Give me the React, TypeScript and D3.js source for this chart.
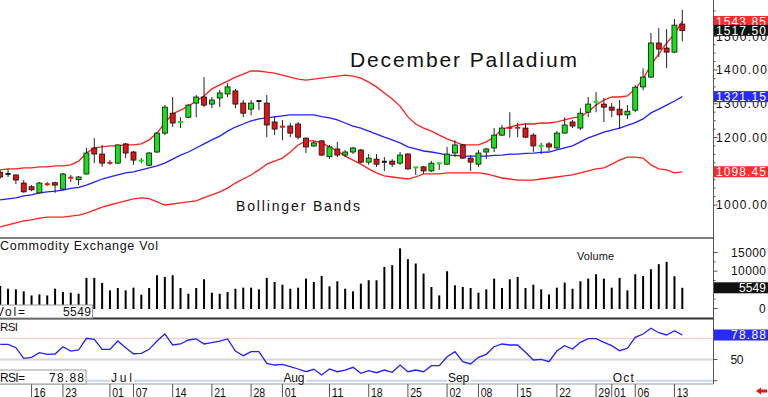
import React, { useEffect, useRef } from 'react';
import * as d3 from 'd3';

const W = 768;
const H = 397;
const FONT = '"Liberation Sans", Arial, Helvetica, sans-serif';

// trading days, Jun 10 - Oct 14
const dates = [
  '06-10', '06-11', '06-12', '06-13', '06-16', '06-17', '06-18', '06-20', '06-23', '06-24',
  '06-25', '06-26', '06-27', '06-30', '07-01', '07-02', '07-03', '07-07', '07-08', '07-09',
  '07-10', '07-11', '07-14', '07-15', '07-16', '07-17', '07-18', '07-21', '07-22', '07-23',
  '07-24', '07-25', '07-28', '07-29', '07-30', '07-31', '08-01', '08-04', '08-05', '08-06',
  '08-07', '08-08', '08-11', '08-12', '08-13', '08-14', '08-15', '08-18', '08-19', '08-20',
  '08-21', '08-22', '08-25', '08-26', '08-27', '08-28', '08-29', '09-02', '09-03', '09-04',
  '09-05', '09-08', '09-09', '09-10', '09-11', '09-12', '09-15', '09-16', '09-17', '09-18',
  '09-19', '09-22', '09-23', '09-24', '09-25', '09-26', '09-29', '09-30', '10-01', '10-02',
  '10-03', '10-06', '10-07', '10-08', '10-09', '10-10', '10-13', '10-14',
];

const opens = [
  1097, 1092, 1089, 1065, 1054, 1036, 1063, 1066, 1047, 1082,
  1075, 1092, 1169, 1151, 1126, 1124, 1181, 1157, 1130, 1118,
  1157, 1213, 1272, 1244, 1260, 1302, 1320, 1299, 1317, 1329,
  1338, 1302, 1284, 1308, 1302, 1246, 1233, 1234, 1240, 1198,
  1175, 1190, 1143, 1166, 1148, 1157, 1163, 1127, 1136, 1128,
  1130, 1124, 1151, 1110, 1113, 1101, 1122, 1121, 1154, 1178,
  1139, 1121, 1157, 1169, 1207, 1230, 1230, 1228, 1207, 1174,
  1181, 1169, 1213, 1246, 1228, 1275, 1305, 1299, 1290, 1284,
  1267, 1281, 1350, 1379, 1480, 1465, 1453, 1536,
];
const highs = [
  1103, 1107, 1090, 1074, 1059, 1068, 1068, 1069, 1095, 1089,
  1086, 1169, 1198, 1178, 1133, 1180, 1184, 1160, 1139, 1157,
  1216, 1296, 1320, 1260, 1299, 1326, 1379, 1320, 1341, 1361,
  1344, 1311, 1311, 1311, 1326, 1263, 1252, 1243, 1246, 1201,
  1190, 1192, 1178, 1187, 1163, 1172, 1166, 1151, 1151, 1142,
  1136, 1157, 1154, 1113, 1116, 1130, 1125, 1172, 1192, 1181,
  1148, 1163, 1169, 1228, 1237, 1275, 1243, 1243, 1213, 1184,
  1187, 1219, 1260, 1252, 1287, 1320, 1335, 1317, 1302, 1311,
  1296, 1355, 1405, 1510, 1524, 1521, 1551, 1578,
];
const lows = [
  1078, 1083, 1062, 1036, 1041, 1034, 1057, 1036, 1044, 1068,
  1059, 1090, 1124, 1113, 1119, 1122, 1139, 1119, 1124, 1115,
  1154, 1207, 1231, 1228, 1257, 1260, 1290, 1287, 1290, 1320,
  1287, 1260, 1266, 1281, 1201, 1207, 1192, 1201, 1195, 1154,
  1172, 1145, 1137, 1142, 1142, 1151, 1124, 1119, 1113, 1101,
  1113, 1119, 1104, 1089, 1092, 1098, 1104, 1119, 1142, 1136,
  1101, 1113, 1136, 1157, 1204, 1200, 1201, 1198, 1157, 1151,
  1160, 1166, 1213, 1228, 1222, 1260, 1275, 1246, 1260, 1225,
  1255, 1275, 1340, 1376, 1438, 1406, 1450, 1485,
];
const closes = [
  1083, 1092, 1074, 1039, 1045, 1065, 1060, 1059, 1092, 1080,
  1083, 1154, 1151, 1124, 1124, 1178, 1154, 1133, 1133, 1154,
  1213, 1290, 1243, 1248, 1296, 1320, 1296, 1311, 1332, 1350,
  1299, 1272, 1302, 1308, 1237, 1225, 1231, 1213, 1201, 1172,
  1184, 1148, 1172, 1148, 1157, 1169, 1127, 1139, 1121, 1128,
  1121, 1148, 1107, 1113, 1101, 1124, 1125, 1151, 1178, 1139,
  1127, 1154, 1166, 1207, 1228, 1227, 1228, 1201, 1175, 1177,
  1172, 1213, 1237, 1234, 1272, 1299, 1307, 1290, 1281, 1267,
  1278, 1349, 1379, 1480, 1462, 1453, 1533, 1517.5,
];

const bbUpper = [
  1104, 1107, 1107, 1110, 1110, 1113, 1113, 1116, 1116, 1119,
  1130, 1154, 1169, 1172, 1175, 1175, 1178, 1178, 1181, 1193,
  1213, 1243, 1270, 1281, 1293, 1308, 1323, 1344, 1356, 1367,
  1379, 1388, 1397, 1397, 1394, 1391, 1385, 1379, 1373, 1370,
  1373, 1376, 1379, 1382, 1385, 1382, 1376, 1364, 1350, 1332,
  1314, 1293, 1261, 1240, 1228, 1219, 1207, 1196, 1187, 1178,
  1178, 1178, 1187, 1201, 1225, 1231, 1237, 1240, 1240, 1243,
  1243, 1246, 1252, 1258, 1261, 1276, 1296, 1311, 1320, 1320,
  1323, 1344, 1373, 1415, 1447, 1480, 1507, 1543.85,
];
const bbMiddle = [
  1015, 1018, 1021, 1027, 1030, 1036, 1039, 1041, 1044, 1049,
  1052, 1059, 1068, 1077, 1083, 1089, 1095, 1098, 1104, 1110,
  1116, 1124, 1136, 1148, 1157, 1169, 1181, 1193, 1204, 1219,
  1231, 1240, 1249, 1255, 1258, 1261, 1264, 1267, 1267, 1267,
  1267, 1262, 1258, 1252, 1243, 1234, 1228, 1219, 1210, 1201,
  1193, 1184, 1172, 1166, 1160, 1157, 1153, 1148, 1147, 1145,
  1145, 1145, 1145, 1147, 1148, 1151, 1151, 1153, 1154, 1156,
  1157, 1163, 1169, 1175, 1187, 1199, 1207, 1216, 1222, 1228,
  1236, 1244, 1255, 1273, 1284, 1296, 1308, 1321.15,
];
const bbLower = [
  935, 941, 947, 953, 956, 961, 964, 964, 964, 967,
  970, 976, 985, 994, 1000, 1006, 1012, 1018, 1021, 1019,
  1009, 1000, 1003, 1006, 1009, 1012, 1022, 1030, 1039, 1050,
  1065, 1077, 1089, 1104, 1121, 1130, 1139, 1157, 1178, 1190,
  1190, 1184, 1172, 1160, 1145, 1133, 1121, 1107, 1095, 1086,
  1083, 1080, 1077, 1083, 1092, 1092, 1092, 1095, 1095, 1095,
  1095, 1095, 1092, 1086, 1080, 1077, 1074, 1074, 1074, 1077,
  1080, 1083, 1086, 1089, 1095, 1101, 1107, 1110, 1121, 1133,
  1142, 1142, 1139, 1119, 1107, 1104, 1095, 1098.45,
];

const volumes = [
  6000, 5300, 5130, 4600, 3500, 3780, 3500, 5300, 4400, 4230,
  3960, 8200, 8200, 6840, 4860, 5490, 4860, 5580, 3690, 5490,
  8910, 8460, 8910, 5490, 3960, 5490, 7830, 4230, 3960, 4400,
  5300, 5580, 5580, 5130, 8200, 7110, 6390, 5300, 5580, 8010,
  7110, 8730, 5940, 7290, 5300, 4600, 6660, 7560, 7560, 11150,
  11610, 16110, 13230, 12060, 9360, 5760, 3510, 9990, 6210, 5760,
  5490, 4230, 5130, 8010, 5490, 7830, 8460, 5490, 6390, 5130,
  3780, 5580, 6930, 5300, 7290, 8010, 9180, 8010, 5580, 8200,
  4860, 9180, 8730, 10530, 11880, 12510, 8640, 5549,
];

const rsiValues = [
  67.9, 67.9, 63.9, 51.4, 52.6, 58.0, 56.1, 56.5, 65.1, 60.0,
  61.2, 75.0, 73.8, 62.0, 62.0, 71.8, 63.9, 56.8, 57.3, 62.0,
  71.8, 80.1, 67.1, 68.3, 73.0, 74.2, 68.3, 69.8, 71.8, 74.2,
  60.0, 54.5, 59.2, 59.2, 45.5, 43.5, 44.3, 41.5, 38.8, 35.6,
  38.4, 31.7, 38.8, 35.6, 37.6, 40.8, 33.7, 36.8, 34.4, 37.6,
  34.9, 43.5, 35.6, 37.6, 35.6, 42.7, 42.7, 53.3, 59.2, 47.4,
  44.7, 52.6, 56.1, 65.1, 68.3, 67.1, 67.1, 58.5, 49.4, 50.2,
  47.4, 60.0, 66.3, 62.4, 70.3, 74.5, 74.5, 70.3, 66.3, 60.4,
  63.2, 76.2, 80.1, 86.8, 81.6, 78.9, 84.0, 78.88,
];

const priceTicks = [1000, 1100, 1200, 1300, 1400, 1500];
const volumeTicks = [0, 10000, 15000];
const dayTicks = ['06-16', '06-23', '07-01', '07-07', '07-14', '07-21', '07-28', '08-01', '08-11',
  '08-18', '08-25', '09-02', '09-08', '09-15', '09-22', '09-29', '10-01', '10-06', '10-13'];
const monthStarts = ['07-01', '08-01', '09-02', '10-01'];
const monthNames = ['Jul', 'Aug', 'Sep', 'Oct'];

const App = () => {
  const svgRef = useRef<SVGSVGElement>(null);

  useEffect(() => {
    const svg = d3.select(svgRef.current);
    svg.selectAll('*').remove();

    const axisX = 713.5;
    const x = d3.scalePoint<string>().domain(dates).range([0.2, 682.3]);
    const yP = d3.scaleLinear().domain([1000, 1400]).range([205, 70]);
    const yV = d3.scaleLinear().domain([0, 15000]).range([308.5, 252.5]);
    const yR = d3.scaleLinear().domain([25, 75]).range([380.7, 338.3]);

    const txt = (s: string, tx: number, ty: number, size: number, len: number,
      fill = '#000', adjust = 'spacing') =>
      svg.append('text')
        .attr('x', tx).attr('y', ty)
        .attr('font-family', FONT).attr('font-size', size)
        .attr('fill', fill)
        .attr('textLength', len).attr('lengthAdjust', adjust)
        .text(s);

    const hline = (yy: number, x1: number, x2: number, color: string, w: number) =>
      svg.append('line').attr('x1', x1).attr('x2', x2).attr('y1', yy).attr('y2', yy)
        .attr('stroke', color).attr('stroke-width', w);

    // RSI reference lines
    hline(yR(75), 0, axisX, '#ffc4c4', 1);
    hline(yR(50), 0, axisX, '#d6d6d6', 2);
    hline(yR(25), 0, axisX, '#c9d3f2', 2);

    // Bollinger bands
    const bandLine = (vals: number[]) => d3.line<number>()
      .x((_, i) => x(dates[i])!)
      .y(v => yP(v))(vals);
    svg.append('path').attr('d', bandLine(bbUpper)).attr('fill', 'none').attr('stroke', '#ff2020').attr('stroke-width', 1.3);
    svg.append('path').attr('d', bandLine(bbLower)).attr('fill', 'none').attr('stroke', '#ff2020').attr('stroke-width', 1.3);
    svg.append('path').attr('d', bandLine(bbMiddle)).attr('fill', 'none').attr('stroke', '#2020ff').attr('stroke-width', 1.3);

    // candles
    const bw = 5;
    dates.forEach((d, i) => {
      const cx = x(d)!;
      const o = opens[i];
      const c = closes[i];
      svg.append('line')
        .attr('x1', cx).attr('x2', cx)
        .attr('y1', yP(highs[i])).attr('y2', yP(lows[i]))
        .attr('stroke', '#222').attr('stroke-width', 1);
      const top = yP(Math.max(o, c));
      const bot = yP(Math.min(o, c));
      const col = c > o ? '#18e018' : c < o ? '#e01414' : '#111';
      if (bot - top < 2) {
        svg.append('rect').attr('x', cx - bw / 2).attr('y', (top + bot) / 2 - 1)
          .attr('width', bw).attr('height', 2).attr('fill', col);
      } else {
        svg.append('rect').attr('x', cx - bw / 2).attr('y', top)
          .attr('width', bw).attr('height', bot - top)
          .attr('fill', col).attr('stroke', '#111').attr('stroke-width', 0.8);
      }
    });

    // volume bars
    dates.forEach((d, i) => {
      const cx = x(d)!;
      svg.append('line').attr('x1', cx).attr('x2', cx)
        .attr('y1', 309).attr('y2', yV(volumes[i]))
        .attr('stroke', '#000').attr('stroke-width', 2);
    });

    // RSI line
    const rsiLine = d3.line<number>().x((_, i) => x(dates[i])!).y(v => yR(v));
    svg.append('path').attr('d', rsiLine(rsiValues)).attr('fill', 'none')
      .attr('stroke', '#2020ff').attr('stroke-width', 1.3);

    // panel separators and axes
    hline(238, 0, axisX, '#000', 1);
    hline(318.5, 0, axisX, '#333', 2);
    hline(384, 0, axisX, '#999', 1);
    svg.append('line').attr('x1', axisX).attr('x2', axisX).attr('y1', 0).attr('y2', 384)
      .attr('stroke', '#555').attr('stroke-width', 1);

    d3.range(1000, 1600, 25).forEach(p => {
      const len = p % 100 === 0 ? 4 : 2;
      svg.append('line').attr('x1', axisX).attr('x2', axisX + len)
        .attr('y1', yP(p)).attr('y2', yP(p)).attr('stroke', '#555');
    });
    d3.range(0, 17500, 2500).forEach(v => {
      const len = v % 5000 === 0 ? 4 : 2;
      svg.append('line').attr('x1', axisX).attr('x2', axisX + len)
        .attr('y1', yV(v)).attr('y2', yV(v)).attr('stroke', '#555');
    });
    [25, 50, 75].forEach(r => {
      svg.append('line').attr('x1', axisX).attr('x2', axisX + 4)
        .attr('y1', yR(r)).attr('y2', yR(r)).attr('stroke', '#555');
    });

    // titles
    txt('December Palladium', 350, 67, 21, 227, '#111');
    txt('Bollinger Bands', 236, 211, 14, 124, '#111');
    txt('Commodity Exchange Vol', 0, 250, 12.5, 158, '#111');
    txt('Volume', 577, 260, 11, 37, '#111');
    txt('RSI', 0, 330.5, 11.5, 18, '#111');

    // date axis
    dayTicks.forEach(d => {
      const tx = x(d)!;
      svg.append('line').attr('x1', tx).attr('x2', tx).attr('y1', 384).attr('y2', 397)
        .attr('stroke', '#555').attr('stroke-width', 1);
      txt(d.slice(3), tx + 2.3, 396.5, 13, 11.7, '#111', 'spacingAndGlyphs');
    });
    monthStarts.forEach((d, k) => {
      const tx = x(d)! + 1;
      svg.append('rect').attr('x', tx - 1).attr('y', 372).attr('width', 24).attr('height', 11).attr('fill', '#fff');
      txt(monthNames[k], tx, 382, 12, 21, '#111');
    });

    // price axis labels
    priceTicks.forEach(p => {
      txt(d3.format('.2f')(p), 716, yP(p) + 4.3, 12, 51, '#111');
    });
    volumeTicks.forEach(v => {
      const s = String(v);
      const len = s.length * 7;
      txt(s, 766 - len, yV(v) + 4.3, 12, len, '#111');
    });
    txt('50', 730.5, yR(50) + 4.3, 12, 13, '#111');

    // value boxes
    const valueBox = (s: string, yy: number, bg: string, len: number) => {
      svg.append('rect').attr('x', 714).attr('y', yy - 5.5).attr('width', 54).attr('height', 11).attr('fill', bg);
      txt(s, 766 - len, yy + 4.3, 12, len, '#fff');
    };
    const last = dates.length - 1;
    valueBox(d3.format('.2f')(bbUpper[last]), yP(bbUpper[last]), '#ff2a2a', 50);
    valueBox(d3.format('.2f')(closes[last]), yP(closes[last]), '#111', 50);
    valueBox(d3.format('.2f')(bbMiddle[last]), yP(bbMiddle[last]), '#2a2aff', 50);
    valueBox(d3.format('.2f')(bbLower[last]), yP(bbLower[last]), '#ff2a2a', 50);
    valueBox(String(volumes[last]), yV(volumes[last]), '#111', 27);
    valueBox(d3.format('.2f')(rsiValues[last]), yR(rsiValues[last]), '#2a2aff', 35);

    // left value readouts
    svg.append('rect').attr('x', -1).attr('y', 305).attr('width', 93.5).attr('height', 13)
      .attr('fill', '#fff').attr('stroke', '#999');
    txt('Vol=', -4, 316, 12, 29, '#111');
    txt(String(volumes[last]), 63, 316, 12, 28, '#111');
    svg.append('rect').attr('x', -1).attr('y', 370).attr('width', 87).attr('height', 14)
      .attr('fill', '#fff').attr('stroke', '#999');
    txt('RSI=', 0, 381.5, 12, 25, '#111');
    txt(d3.format('.2f')(rsiValues[last]), 49, 381.5, 12, 35, '#111');

    // little red arrow, bottom right
    svg.append('path')
      .attr('d', 'M756,391 L761,387.5 L761,389.6 L767,389.6 L767,392.4 L761,392.4 L761,394.5 Z')
      .attr('fill', '#ee1111');
  }, []);

  return (
    <svg
      ref={svgRef}
      width={W}
      height={H}
      style={{ position: 'absolute', left: 0, top: 0, background: '#fff', display: 'block' }}
    />
  );
};

export default App;
